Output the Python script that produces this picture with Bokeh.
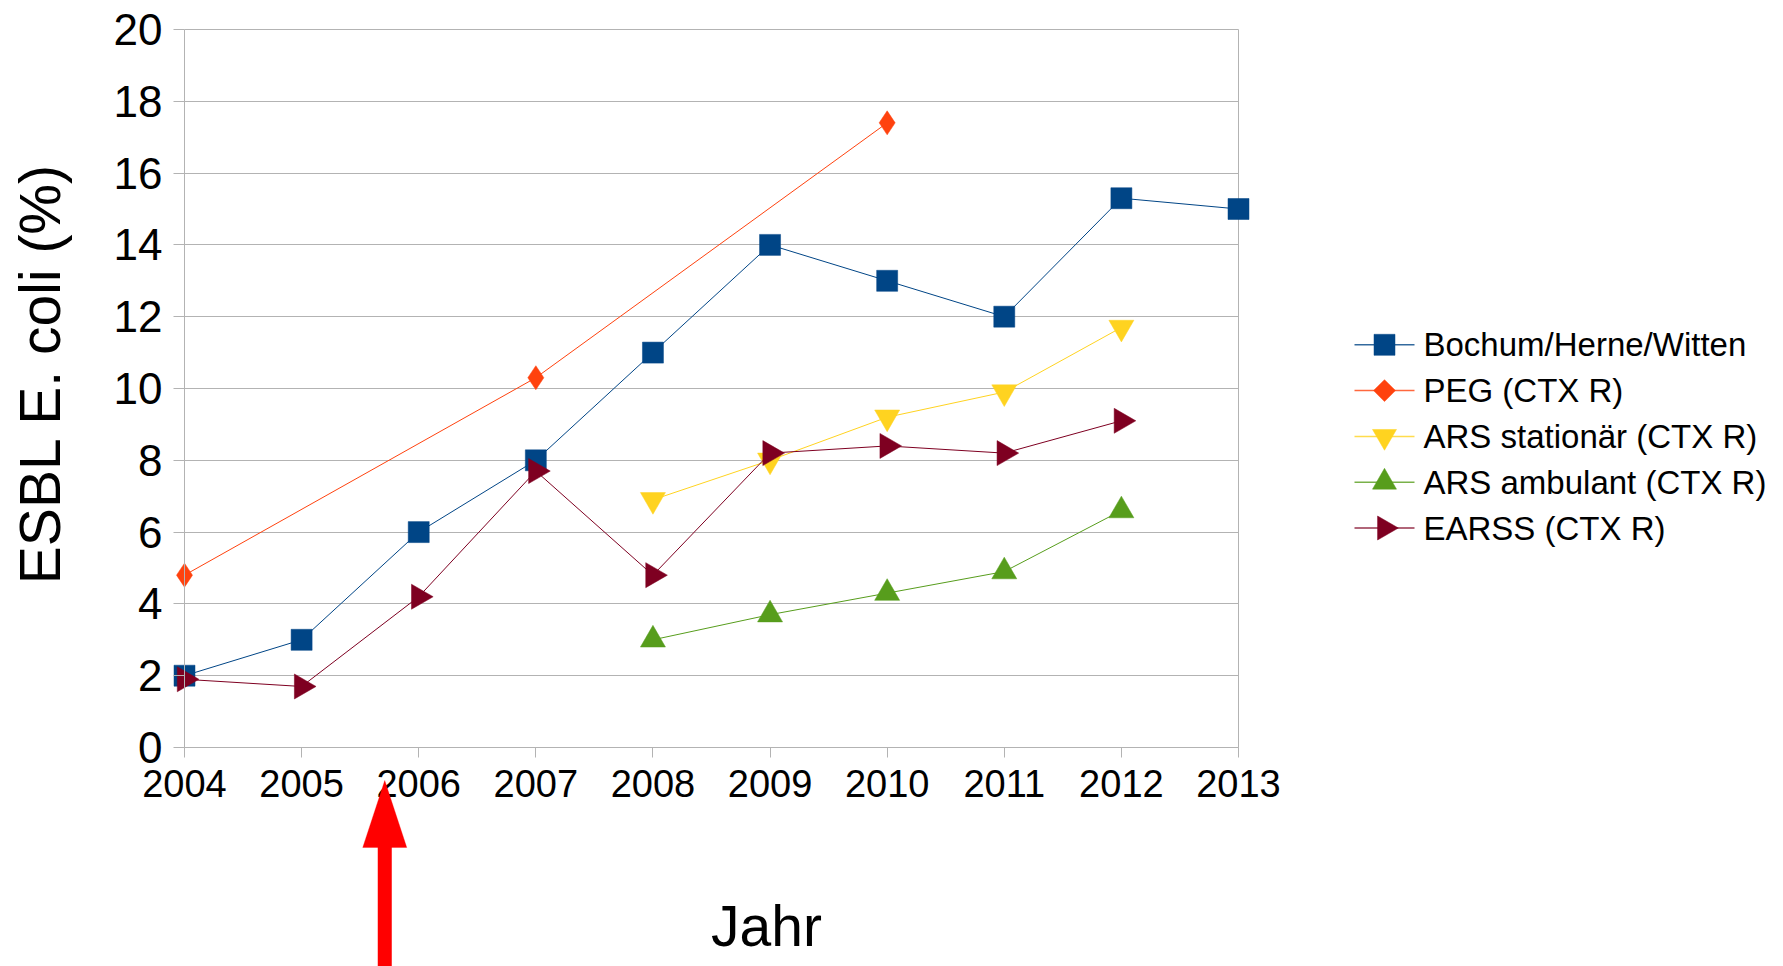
import math

from bokeh.plotting import figure
from bokeh.models import (FixedTicker, Label, Arrow, PolyAnnotation,
                          LinearAxis, Grid)
from bokeh.core.properties import value
from bokeh.embed import file_html
from bokeh.resources import INLINE

# ---- data -------------------------------------------------------------
years = [2004, 2005, 2006, 2007, 2008, 2009, 2010, 2011, 2012, 2013]
bochum = [2.0, 3.0, 6.0, 8.0, 11.0, 14.0, 13.0, 12.0, 15.3, 15.0]

peg_years = [2004, 2007, 2010]
peg = [4.8, 10.3, 17.4]

ars_years = [2008, 2009, 2010, 2011, 2012]
ars_stationaer = [6.9, 8.0, 9.2, 9.9, 11.7]
ars_ambulant = [3.0, 3.7, 4.3, 4.9, 6.6]

earss_years = [2004, 2005, 2006, 2007, 2008, 2009, 2010, 2011, 2012]
earss = [1.9, 1.7, 4.2, 7.7, 4.8, 8.2, 8.4, 8.2, 9.1]

series_labels = ["Bochum/Herne/Witten", "PEG (CTX R)", "ARS stationär (CTX R)",
                 "ARS ambulant (CTX R)", "EARSS (CTX R)"]

y_ticks = [0, 2, 4, 6, 8, 10, 12, 14, 16, 18, 20]

# year marked by the red arrow below the axis
marked_year = 2005.71

FONT = "Liberation Sans"
GRID = "#b3b3b3"

W, H = 1783, 966
# plotting area inside the canvas (pixels)
AREA_L, AREA_R, AREA_T, AREA_B = 184, 1238, 29, 747
X0, X1 = years[0], years[-1]
Y0, Y1 = y_ticks[0], y_ticks[-1]
sx = (AREA_R - AREA_L) / (X1 - X0)
sy = (AREA_B - AREA_T) / (Y1 - Y0)


def dx(px):
    """canvas x pixel -> data x"""
    return X0 + (px - AREA_L) / sx


def dy(py):
    """canvas y pixel (from top) -> data y"""
    return Y0 + (AREA_B - py) / sy


# the frame spans the whole canvas so that edge markers, legend and the
# notes below the axis are not clipped; axes sit at fixed locations
p = figure(width=W, height=H,
           x_range=(dx(0), dx(W)), y_range=(dy(H), dy(0)),
           output_backend="svg", toolbar_location=None,
           x_axis_location=None, y_axis_location=None,
           min_border=0)
p.background_fill_color = "white"
p.border_fill_color = "white"
p.outline_line_color = None
p.grid.visible = False

# horizontal grid lines between the first and last year
p.add_layout(Grid(dimension=1, ticker=FixedTicker(ticks=y_ticks),
                  bounds=(Y0, Y1), cross_bounds=(X0, X1),
                  grid_line_color=GRID, grid_line_width=1))
# right border of the plotting area
p.add_layout(Grid(dimension=0, ticker=FixedTicker(ticks=[X1]),
                  bounds=(X0, X1), cross_bounds=(Y0, Y1),
                  grid_line_color=GRID, grid_line_width=1))

# y axis
ya = LinearAxis(fixed_location=X0, bounds=(Y0, Y1),
                ticker=FixedTicker(ticks=y_ticks))
ya.axis_line_color = GRID
ya.major_tick_line_color = GRID
ya.major_tick_out = 11
ya.major_tick_in = 0
ya.minor_tick_line_color = None
ya.major_label_text_font = FONT
ya.major_label_text_font_size = "44px"
ya.major_label_text_color = "black"
ya.major_label_standoff = 11
p.add_layout(ya, "left")

# x axis
xa = LinearAxis(fixed_location=Y0, bounds=(X0, X1),
                ticker=FixedTicker(ticks=years))
xa.axis_line_color = GRID
xa.major_tick_line_color = GRID
xa.major_tick_out = 10
xa.major_tick_in = 0
xa.minor_tick_line_color = None
xa.major_label_text_font = FONT
xa.major_label_text_font_size = "38px"
xa.major_label_text_color = "black"
xa.major_label_standoff = 12
p.add_layout(xa, "below")

# ---- series -----------------------------------------------------------
styles = [
    # colour, marker, size in plot, angle, marker in legend, legend size
    ("#004586", "square", 21, 0.0, "square", 21, 0.0),
    ("#ff420e", "diamond", 24, 0.0, "square", 15.5, math.pi / 4),
    ("#ffd320", "inverted_triangle", 25, 0.0, "inverted_triangle", 24, 0.0),
    ("#579d1c", "triangle", 25, 0.0, "triangle", 24, 0.0),
    ("#7e0021", "triangle", 25, -math.pi / 2, "triangle", 24, -math.pi / 2),
]
series_x = [years, peg_years, ars_years, ars_years, earss_years]
series_y = [bochum, peg, ars_stationaer, ars_ambulant, earss]

for xs, ys, (color, marker, size, angle, *_rest) in zip(series_x, series_y,
                                                       styles):
    p.line(xs, ys, line_color=color, line_width=1)
    p.scatter(xs, ys, marker=marker, size=size, angle=angle,
              fill_color=color, line_color=color, line_width=0.5)

# ---- legend (right of the plotting area) ------------------------------
LEG_LINE_X0, LEG_LINE_X1 = 1354, 1414
LEG_MARK_X, LEG_TEXT_X = 1384, 1423
LEG_ROW0, LEG_ROW_STEP = 344.3, 45.8

for i, (label, st) in enumerate(zip(series_labels, styles)):
    color, _m, _s, _a, lmarker, lsize, langle = st
    ry = dy(LEG_ROW0 + i * LEG_ROW_STEP)
    p.segment(x0=[dx(LEG_LINE_X0)], y0=[ry], x1=[dx(LEG_LINE_X1)], y1=[ry],
              line_color=color, line_width=1.5, line_alpha=0.8)
    p.scatter([dx(LEG_MARK_X)], [ry], marker=lmarker, size=lsize,
              angle=langle, fill_color=color, line_color=color,
              line_width=0.5)
    p.text([dx(LEG_TEXT_X)], [ry], text=[label], text_font=value(FONT),
           text_font_size=value("33px"), text_color="black",
           text_align="left", text_baseline="middle")

# ---- axis titles ------------------------------------------------------
p.add_layout(Label(x=dx(39), y=dy(373), text="ESBL E. coli (%)",
                   angle=math.pi / 2, text_align="center",
                   text_baseline="middle", text_font=FONT,
                   text_font_size="57px", text_color="black"))
p.add_layout(Label(x=(X0 + X1) / 2 + 0.47, y=Y0 - 178 / sy, text="Jahr",
                   text_align="center", text_baseline="alphabetic",
                   text_font=FONT, text_font_size="57px",
                   text_color="black"))

# ---- red arrow under the x axis --------------------------------------
head_half = 22 / sx
tip_y = dy(780)
base_y = dy(847)
foot_y = dy(H + 5)

p.add_layout(Arrow(x_start=marked_year, y_start=foot_y,
                   x_end=marked_year, y_end=base_y + 0.02,
                   line_color="#ff0000", line_width=14, end=None))
p.add_layout(PolyAnnotation(
    xs=[marked_year - head_half, marked_year, marked_year + head_half],
    ys=[base_y, tip_y, base_y],
    fill_color="#ff0000", fill_alpha=1.0, line_color="#ff0000",
    line_width=1))

open("out.html", "w").write(file_html(p, INLINE))
